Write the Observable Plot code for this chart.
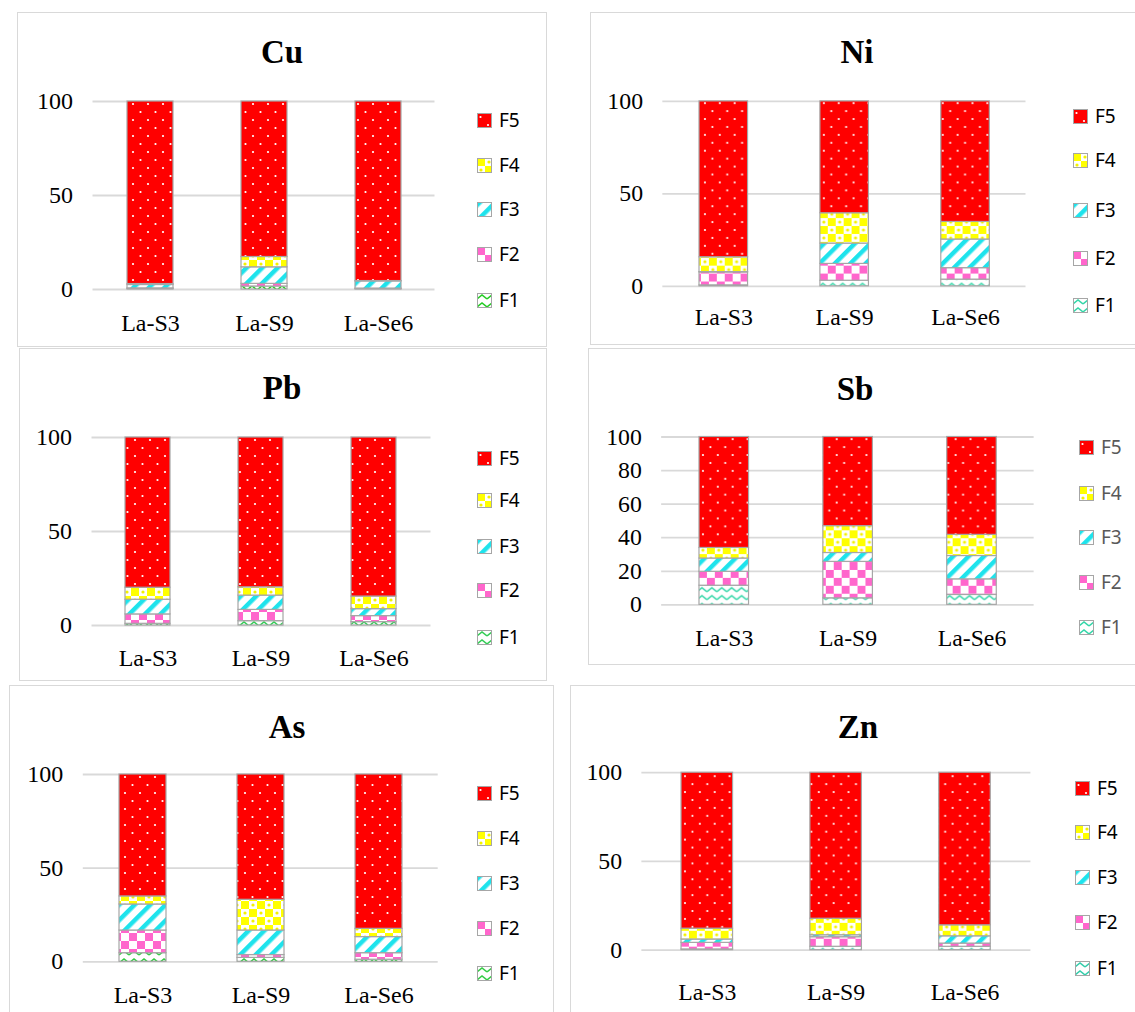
<!DOCTYPE html>
<html><head><meta charset="utf-8">
<script src="https://cdn.jsdelivr.net/npm/d3@7"></script>
<script src="https://cdn.jsdelivr.net/npm/@observablehq/plot@0.6"></script>
<style>
html,body{margin:0;padding:0;background:#fff;}
body{width:1135px;height:1012px;overflow:hidden;position:relative;}
.panel{position:absolute;border:1.5px solid #d9d9d9;box-sizing:border-box;background:#fff;}
.plotwrap{position:absolute;}
.title{position:absolute;transform:translate(-50%,-50%);font-family:"Liberation Serif","Times New Roman",serif;font-weight:bold;font-size:33px;color:#000;white-space:nowrap;}
.leg{position:absolute;display:flex;align-items:center;height:24px;font-family:"Noto Sans",Calibri,sans-serif;font-size:19px;color:#000;}
.leg svg{margin-right:7px;}
</style></head>
<body>
<svg width="0" height="0" style="position:absolute"><defs id="patdefs"></defs></svg>
<script>
// ---------- DATA ----------
const samples = ["La-S3", "La-S9", "La-Se6"];
const fractions = ["F1", "F2", "F3", "F4", "F5"];
const ticksDefault = [0, 50, 100];
const ticksSb = [0, 20, 40, 60, 80, 100];

// values per fraction (rows F1..F5), columns La-S3, La-S9, La-Se6
const cuValues = [
  [0.3, 1.6, 0.2],
  [0.3, 1.4, 0.3],
  [1.8, 8.8, 3.8],
  [0.5, 5.5, 0.2],
  [97.1, 82.7, 95.5]
];
const niValues = [
  [0.5, 3.0, 3.6],
  [7.0, 9.1, 6.2],
  [0.2, 11.0, 15.5],
  [8.0, 16.4, 9.5],
  [84.3, 60.5, 65.2]
];
const pbValues = [
  [0.9, 2.3, 1.8],
  [5.0, 6.0, 3.2],
  [7.8, 7.6, 3.7],
  [6.4, 4.4, 6.7],
  [79.9, 79.7, 84.6]
];
const sbValues = [
  [11.4, 3.9, 5.9],
  [8.3, 21.7, 9.3],
  [7.9, 5.3, 13.9],
  [6.3, 16.0, 12.6],
  [66.1, 53.1, 58.3]
];
const asValues = [
  [4.6, 2.1, 1.1],
  [12.1, 1.5, 3.5],
  [13.9, 13.1, 8.6],
  [4.3, 16.4, 4.4],
  [65.1, 66.9, 82.4]
];
const znValues = [
  [0.4, 1.9, 1.9],
  [3.7, 5.4, 1.8],
  [1.9, 1.1, 4.1],
  [6.1, 9.3, 6.2],
  [87.9, 82.3, 86.0]
];

// ---------- LAYOUT / STYLE ----------
const panels = [
  {id:"cu", title:"Cu", values:cuValues, ticks:ticksDefault, box:[17,12,547,347], grid:[92.5,434.5], y0:289, yTop:101, labelY:323, titleXY:[282,52], legX:477, legYs:[300,254,209,165,120], legColor:"#000", f1:"#22cc22", gap:20},
  {id:"ni", title:"Ni", values:niValues, ticks:ticksDefault, box:[590,12,1140,345], grid:[663,1029.5], y0:288.3, yTop:101.7, labelY:319, titleXY:[857,52], legX:1073, legYs:[305,258,210,160,116], legColor:"#000", f1:"#33d6a8", gap:20},
  {id:"pb", title:"Pb", values:pbValues, ticks:ticksDefault, box:[19,348,547,681], grid:[91.5,430.5], y0:625, yTop:437, labelY:658, titleXY:[282,388], legX:477, legYs:[637,590,546,500,458], legColor:"#000", f1:"#33cc55", gap:20},
  {id:"sb", title:"Sb", values:sbValues, ticks:ticksSb, box:[588,348,1140,665], grid:[661.8,1037.7], y0:606.7, yTop:437.3, labelY:640, titleXY:[855,389], legX:1079, legYs:[627,582,537,493,447], legColor:"#595959", f1:"#33d6a8", gap:20},
  {id:"as", title:"As", values:asValues, ticks:ticksDefault, box:[9,685,554,1015], grid:[82.8,437.7], y0:961.3, yTop:774, labelY:995, titleXY:[287,727], legX:477, legYs:[973,928,883,838,793], legColor:"#000", f1:"#33cc44", gap:20},
  {id:"zn", title:"Zn", values:znValues, ticks:ticksDefault, box:[570,685,1140,1015], grid:[642,1034.5], y0:952, yTop:773, labelY:994, titleXY:[858,727], legX:1075, legYs:[968,922,877,832,788], legColor:"#000", f1:"#33ccaa", gap:20}
];

const NS = "http://www.w3.org/2000/svg";
const defs = document.getElementById("patdefs");
function addPatterns(p) {
  const html = `
  <pattern id="${p.id}-F5" patternUnits="userSpaceOnUse" width="15" height="16">
    <rect width="15" height="16" fill="#ff0000"/>
    <circle cx="3.5" cy="4" r="1.1" fill="#ffffff"/>
    <circle cx="11" cy="12" r="1.1" fill="#ffffff"/>
  </pattern>
  <pattern id="${p.id}-F4" patternUnits="userSpaceOnUse" width="16" height="16">
    <rect width="16" height="16" fill="#ffffff"/>
    <rect width="8" height="8" fill="#ffff00"/>
    <rect x="8" y="8" width="8" height="8" fill="#ffff00"/>
    <circle cx="12" cy="4" r="1.6" fill="#f2f200"/>
    <circle cx="4" cy="12" r="1.6" fill="#f2f200"/>
  </pattern>
  <pattern id="${p.id}-F3" patternUnits="userSpaceOnUse" width="11" height="11" patternTransform="rotate(45)">
    <rect width="11" height="11" fill="#ffffff"/>
    <rect width="4.5" height="11" fill="#1ee3ec"/>
  </pattern>
  <pattern id="${p.id}-F2" patternUnits="userSpaceOnUse" width="16" height="16">
    <rect width="16" height="16" fill="#ffffff"/>
    <rect width="8" height="8" fill="#ff66cc"/>
    <rect x="8" y="8" width="8" height="8" fill="#ff66cc"/>
  </pattern>
  <pattern id="${p.id}-F1" patternUnits="userSpaceOnUse" width="10" height="8">
    <rect width="10" height="8" fill="#ffffff"/>
    <path d="M0 6 L5 2 L10 6" stroke="${p.f1}" stroke-width="1.6" fill="none"/>
  </pattern>`;
  defs.insertAdjacentHTML("beforeend", html);
}

function drawPanel(p) {
  addPatterns(p);
  const [bx0, by0, bx1, by1] = p.box;
  const W = bx1 - bx0, H = by1 - by0;
  const div = document.createElement("div");
  div.className = "panel";
  Object.assign(div.style, {left: bx0 + "px", top: by0 + "px", width: W + "px", height: H + "px"});
  document.body.appendChild(div);

  const rows = [];
  fractions.forEach((f, i) => samples.forEach((s, j) => rows.push({sample: s, fraction: f, value: p.values[i][j]})));

  const fs = 24;
  const chart = Plot.plot({
    width: W, height: H,
    marginLeft: p.grid[0] - bx0,
    marginRight: bx1 - p.grid[1],
    marginTop: p.yTop - by0,
    marginBottom: by1 - p.y0,
    style: {fontFamily: "'Liberation Serif','Times New Roman',serif", fontSize: fs + "px", color: "#000", background: "transparent", overflow: "visible"},
    x: {domain: samples, paddingInner: 0.6, paddingOuter: 0.3, label: null, tickSize: 0, tickPadding: p.labelY - p.y0 - 0.38 * fs},
    y: {domain: [0, 100], ticks: p.ticks, label: null, tickSize: 0, tickPadding: p.gap},
    color: {domain: fractions, range: fractions.map(f => `url(#${p.id}-${f})`)},
    marks: [
      Plot.gridY(p.ticks, {stroke: "#d9d9d9", strokeOpacity: 1, strokeWidth: 1.8}),
      Plot.barY(rows, {x: "sample", y: "value", fill: "fraction", stroke: "#a6a6a6", strokeWidth: 1.2})
    ]
  });
  const wrap = document.createElement("div");
  wrap.className = "plotwrap";
  Object.assign(wrap.style, {left: bx0 + "px", top: by0 + "px"});
  wrap.appendChild(chart);
  document.body.appendChild(wrap);

  const t = document.createElement("div");
  t.className = "title";
  t.textContent = p.title;
  Object.assign(t.style, {left: p.titleXY[0] + "px", top: p.titleXY[1] + "px"});
  document.body.appendChild(t);

  fractions.forEach((f, i) => {
    const it = document.createElement("div");
    it.className = "leg";
    Object.assign(it.style, {left: p.legX + "px", top: (p.legYs[i] - 12) + "px", color: p.legColor});
    const sw = document.createElementNS(NS, "svg");
    sw.setAttribute("width", 15); sw.setAttribute("height", 15);
    const r = document.createElementNS(NS, "rect");
    r.setAttribute("x", 0.5); r.setAttribute("y", 0.5); r.setAttribute("width", 14); r.setAttribute("height", 14);
    r.setAttribute("fill", `url(#${p.id}-${f})`);
    r.setAttribute("stroke", "#a6a6a6"); r.setAttribute("stroke-width", 1);
    sw.appendChild(r);
    it.appendChild(sw);
    const tx = document.createElement("span");
    tx.textContent = f;
    it.appendChild(tx);
    document.body.appendChild(it);
  });
}

panels.forEach(drawPanel);
</script>
</body></html>
